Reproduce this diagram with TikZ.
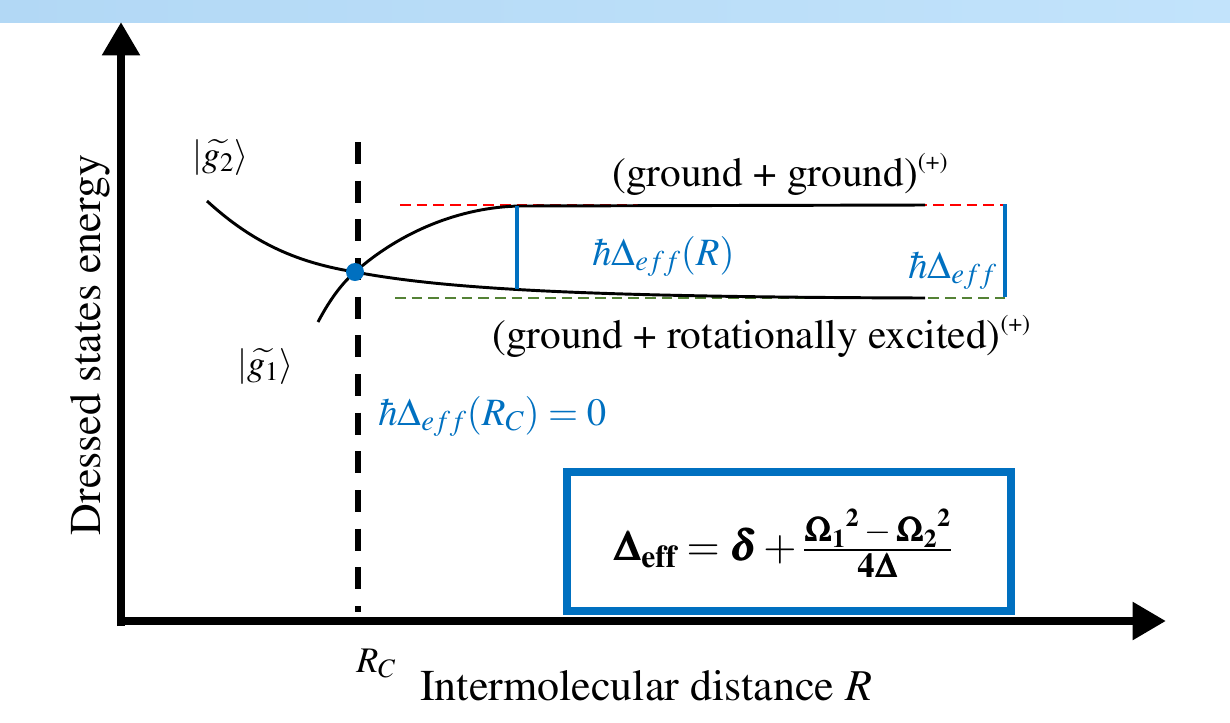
\documentclass[tikz,border=0pt]{standalone}
\usepackage[T1]{fontenc}
\usepackage{amsmath}
\usepackage{mathptmx}
\usepackage{bm}
\usetikzlibrary{arrows.meta}
\definecolor{offblue}{RGB}{0,112,192}
\definecolor{bandL}{RGB}{178,216,245}
\definecolor{bandR}{RGB}{194,227,251}
\definecolor{lvlgreen}{RGB}{84,130,53}
\tikzset{
  axis/.style={line width=6.2pt,-{Triangle[length=25pt,width=27pt]}},
  curve/.style={line width=2.2pt,black},
  level/.style={line width=2.2pt,dash pattern=on 8pt off 4.5pt},
  gap/.style={line width=3pt,offblue},
  lbl/.style={inner sep=0pt,font=\fontsize{31}{37}\selectfont},
  axlbl/.style={inner sep=0pt,font=\fontsize{33}{40}\selectfont},
  bluemath/.style={inner sep=0pt,text=offblue,font=\fontsize{29}{34}\selectfont},
  ketlbl/.style={inner sep=0pt,font=\fontsize{27}{32}\selectfont}
}
\newcommand{\plussup}{\raisebox{12.5pt}{\fontsize{18}{20}\selectfont(+)}}
\newcommand{\smallmath}[1]{\mbox{\fontsize{26}{30}\selectfont$#1$}}
\begin{document}
\begin{tikzpicture}[x=0.75pt,y=-0.75pt]
\useasboundingbox (0,0) rectangle (1230,722);
\shade[left color=bandL,right color=bandR] (0,0) rectangle (1230,22);
% axes
\coordinate (ybase) at (121,626);
\coordinate (ytip) at (121,22);
\coordinate (xstart) at (117,621);
\coordinate (xtip) at (1166,621);
\draw[axis] (ybase) -- (ytip);
\draw[axis] (xstart) -- (xtip);
% critical distance
\coordinate (rctop) at (358,142);
\coordinate (rcbot) at (358,612);
\draw[line width=4.5pt,dash pattern=on 16.5pt off 12.5pt] (rctop) -- (rcbot);
% asymptote levels
\coordinate (redL) at (400,205);
\coordinate (redR) at (1005,205);
\coordinate (grnL) at (395,298);
\coordinate (grnR) at (1005,298);
\draw[level,red] (redL) -- (redR);
\draw[level,lvlgreen] (grnL) -- (grnR);
% curves
\coordinate (cross) at (355,272);
\coordinate (g2start) at (207,201);
\coordinate (g2end) at (925,298);
\coordinate (g1start) at (318,322);
\coordinate (g1knee) at (520,206);
\coordinate (g1end) at (925,205);
\draw[curve] (g2start) .. controls (255,245) and (300,263) .. (cross)
  .. controls (450,290) and (600,297) .. (g2end);
\draw[curve] (g1start) .. controls (328,303) and (340,285) .. (cross)
  .. controls (400,232) and (460,207) .. (g1knee) -- (g1end);
\fill[offblue] (cross) circle[radius=9];
% gaps
\coordinate (gapAtop) at (517,206);
\coordinate (gapAbot) at (517,289);
\coordinate (gapBtop) at (1005,204);
\coordinate (gapBbot) at (1005,297);
\draw[gap] (gapAtop) -- (gapAbot);
\draw[gap] (gapBtop) -- (gapBbot);
% labels
\node[lbl,anchor=base west] (gg) at (612,186) {(ground + ground)\plussup};
\node[lbl,anchor=base west] (gr) at (492,348) {(ground + rotationally excited)\plussup};
\node[bluemath,anchor=base west] (dR) at (592,265) {$\hbar\Delta_{eff}(R)$};
\node[bluemath,anchor=base west] (dinf) at (908,278) {$\hbar\Delta_{eff}$};
\node[bluemath,anchor=base west] (dRc) at (378,425) {$\hbar\Delta_{eff}(R_C)=0$};
\node[ketlbl,anchor=base west] (k2) at (192,166) {$|\widetilde{g_2}\rangle$};
\node[ketlbl,anchor=base west] (k1) at (237,375) {$|\widetilde{g_1}\rangle$};
\node[ketlbl,anchor=base west] (rc) at (356,672) {$R_C$};
\node[axlbl,anchor=base west] (xl) at (420,700) {Intermolecular distance $R$};
\node[axlbl,anchor=base,rotate=90] (yl) at (100,345) {Dressed states energy};
% formula box
\node[draw=offblue,line width=6pt,minimum width=333pt,minimum height=104pt,inner sep=0pt] (box) at (789,541.5) {};
\node[inner sep=0pt,font=\fontsize{32}{38}\selectfont] (formula) at (783,543)
  {$\bm{\Delta}_{\mathbf{eff}}=\bm{\delta}+\frac{\smallmath{{\bm{\Omega}_{\mathbf{1}}}^{\mathbf{2}}-{\bm{\Omega}_{\mathbf{2}}}^{\mathbf{2}}}}{\smallmath{\mathbf{4}\bm{\Delta}}}$};
\end{tikzpicture}
\end{document}
